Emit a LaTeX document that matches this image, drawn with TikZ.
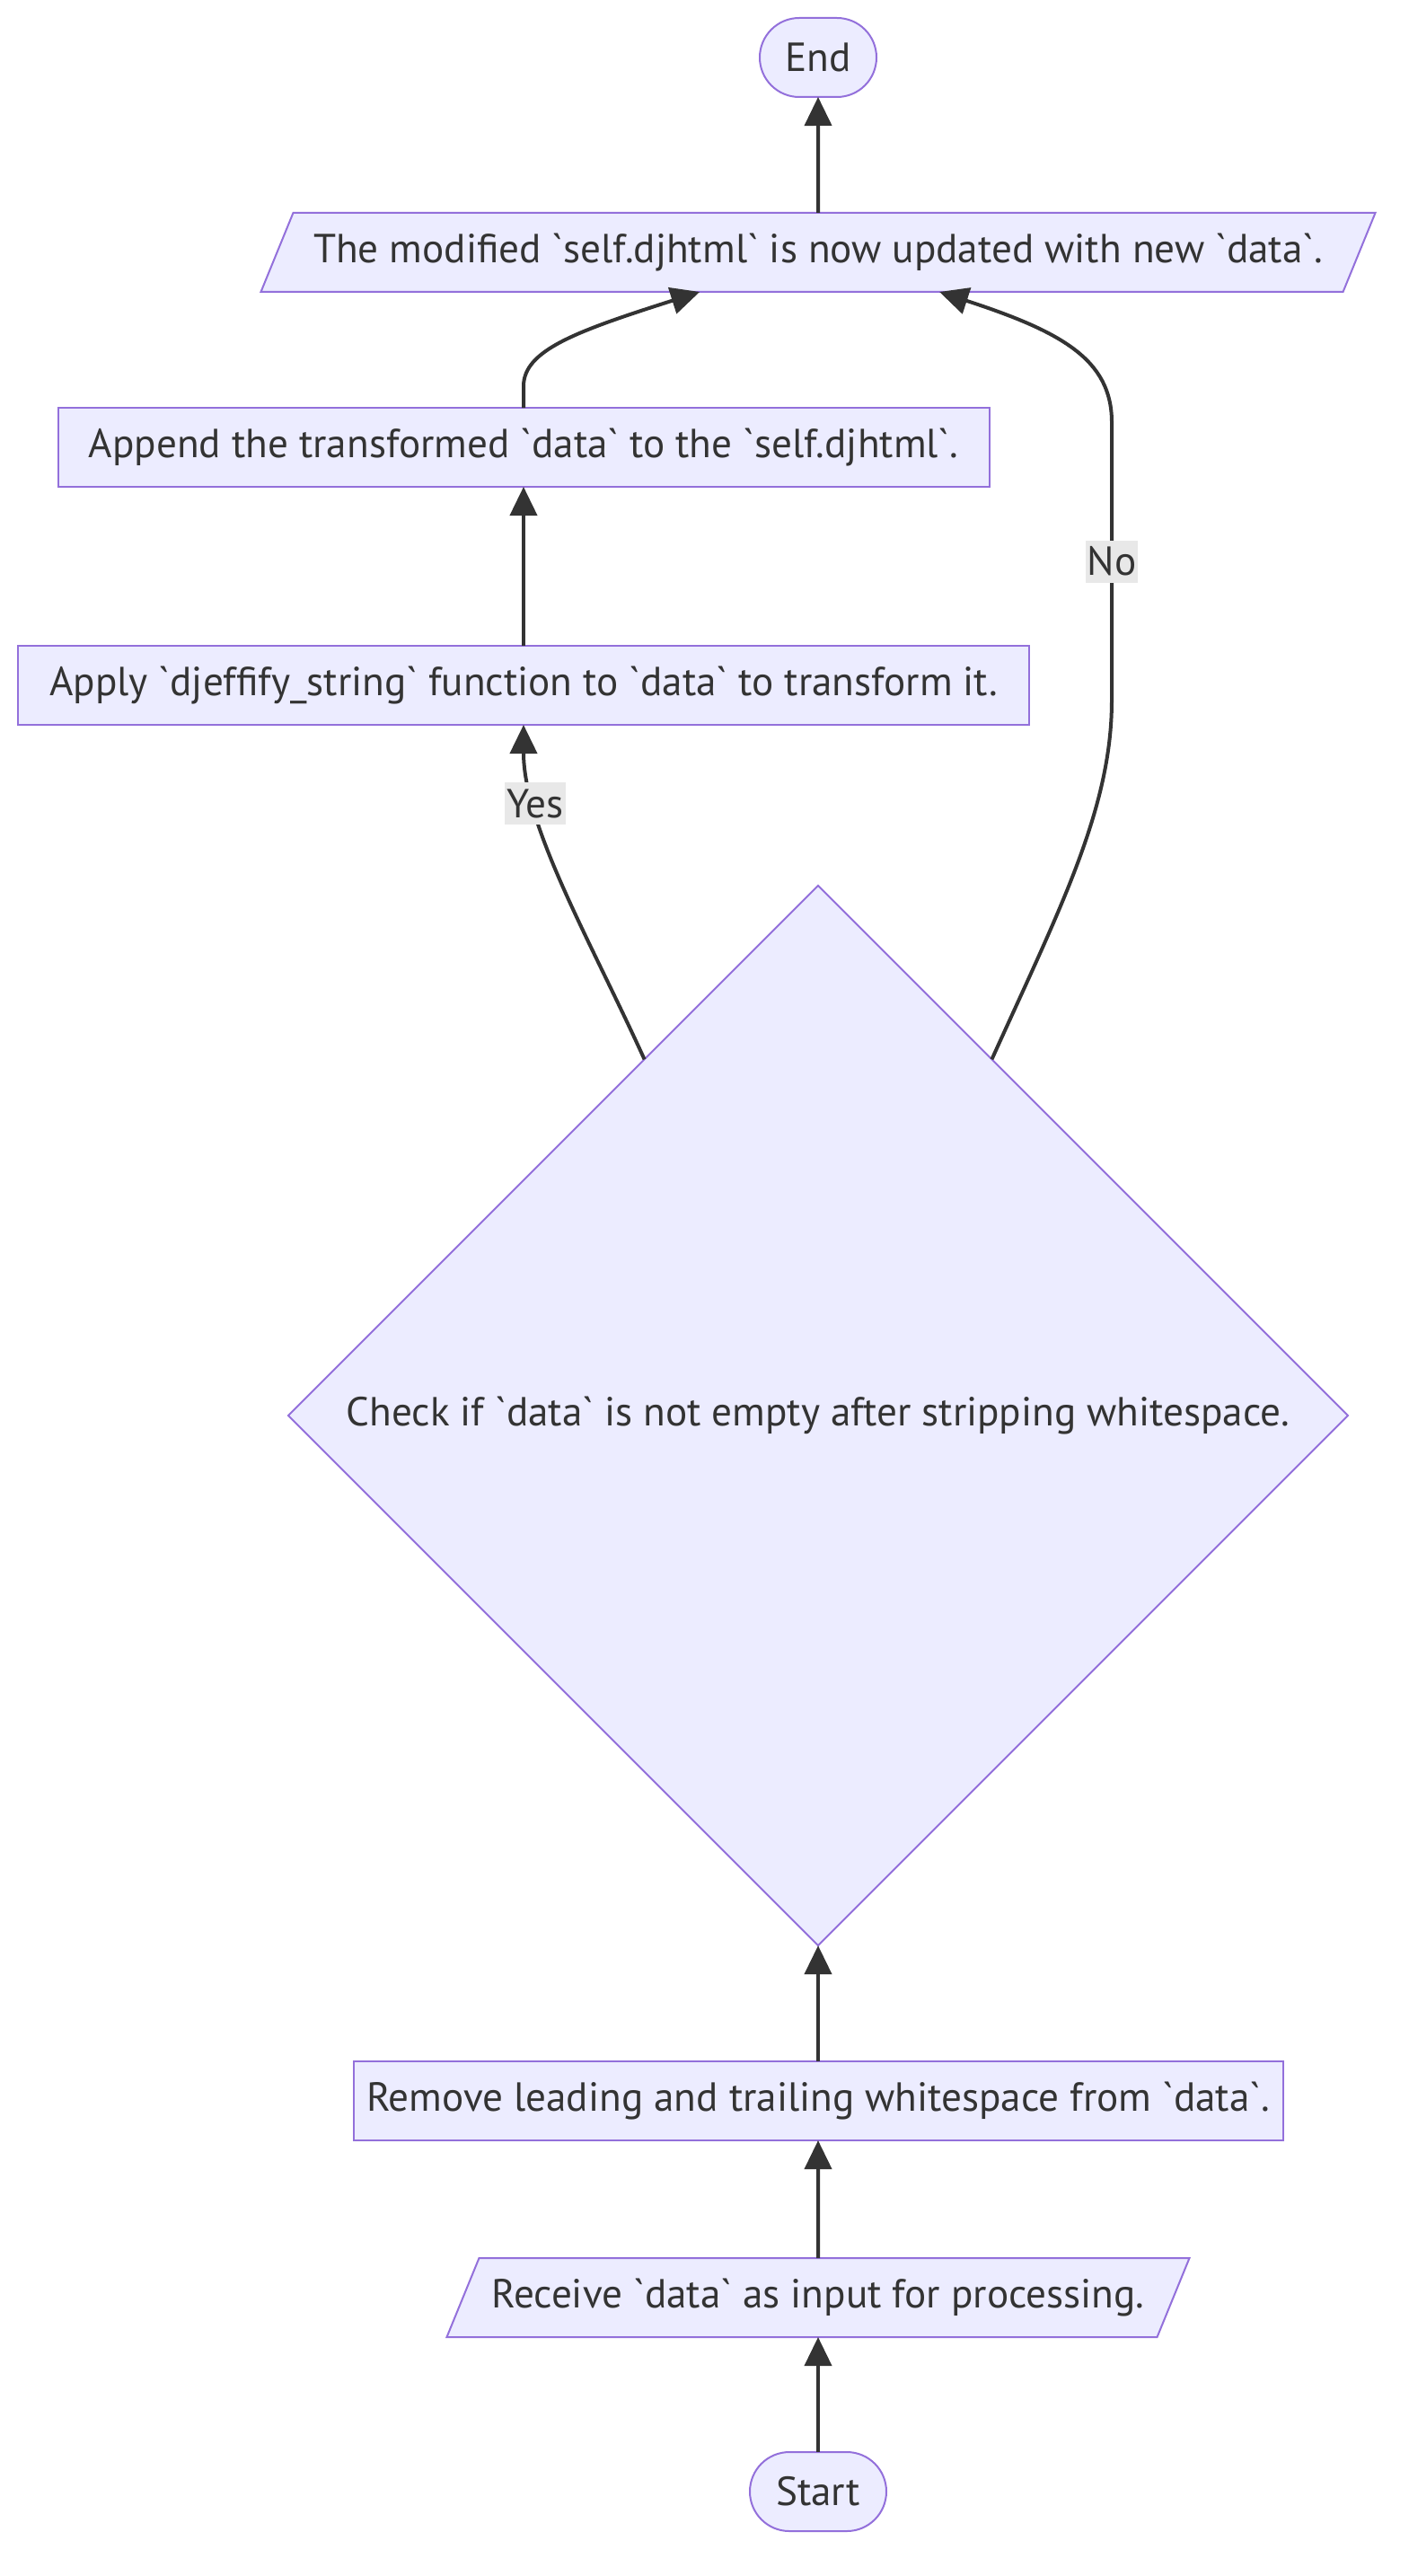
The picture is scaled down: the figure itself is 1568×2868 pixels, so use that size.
\documentclass[tikz,border=0pt]{standalone}
\usepackage{fontspec}
\setmainfont{PT Sans}
\usetikzlibrary{positioning, arrows.meta, shapes.geometric}
\definecolor{nodefill}{HTML}{ECECFF}
\definecolor{nodeline}{HTML}{9370DB}
\definecolor{edgeline}{HTML}{333333}
\definecolor{lblfill}{HTML}{E8E8E8}
\newcommand{\bt}{\textasciigrave}

\tikzset{
  base/.style={draw=nodeline, fill=nodefill, line width=1pt, text=edgeline,
    inner sep=0pt, outer sep=0pt, minimum height=44pt,
    font=\fontsize{22.6}{27}\selectfont},
  procbox/.style={base, rectangle},
  iobox/.style={base, trapezium, trapezium left angle=49.5,
    trapezium right angle=130.5, trapezium stretches body=true},
  termbox/.style={base, rectangle, rounded corners=22pt},
  decbox/.style={base, diamond, aspect=1},
  flow/.style={line width=2pt, draw=edgeline, -{Triangle[length=16pt, width=15pt]}},
  lbl/.style={fill=lblfill, text=edgeline, inner xsep=1pt, inner ysep=0pt,
    minimum height=23.5pt, font=\fontsize{22.6}{27}\selectfont}
}

\begin{document}
\begin{tikzpicture}[x=0.5pt, y=-0.5pt]
\useasboundingbox (0,0) rectangle (1568,2868);

% Nodes, bottom to top
\node[termbox, minimum width=76pt] (start) at (911,2774) {Start};
\node[iobox, minimum width=413.5pt] (recv) at (911,2558)
  {Receive \bt data\bt{} as input for processing.};
\node[procbox, minimum width=517.5pt] (strip) at (911,2339)
  {Remove leading and trailing whitespace from \bt data\bt.};
\node[decbox, minimum width=590pt, minimum height=590pt] (check) at (911,1576)
  {Check if \bt data\bt{} is not empty after stripping whitespace.};
\node[procbox, minimum width=563pt] (apply) at (583,763)
  {Apply \bt djeffify\_string\bt{} function to \bt data\bt{} to transform it.};
\node[procbox, minimum width=518.5pt] (append) at (583,498)
  {Append the transformed \bt data\bt{} to the \bt self.djhtml\bt.};
\node[iobox, minimum width=620.5pt] (out) at (911,281)
  {The modified \bt self.djhtml\bt{} is now updated with new \bt data\bt.};
\node[termbox, minimum width=65pt] (end) at (911,64) {End};

% Straight flow
\draw[flow] (start) -- (recv);
\draw[flow] (recv) -- (strip);
\draw[flow] (strip) -- (check);
\draw[flow] (apply) -- (append);
\draw[flow] (out) -- (end);

% Decision branches
\draw[flow] (check.116) .. controls +(-58,-128) and +(0,113) .. (apply.south)
  node[lbl, pos=0.75] {Yes};
\coordinate (nolow) at (1238,780);
\coordinate (nohigh) at (1238,470);
\draw[flow] (check.64) .. controls +(76,-168) and +(0,120) .. (nolow)
  -- node[lbl] {No} (nohigh)
  .. controls +(0,-70) and +(135,44) .. ([xshift=67.5pt]out.south);

% Append feeds the output
\draw[flow] (append.north) -- ++(0,-24)
  .. controls +(0,-40) and +(-138,44) .. ([xshift=-66pt]out.south);
\end{tikzpicture}
\end{document}
